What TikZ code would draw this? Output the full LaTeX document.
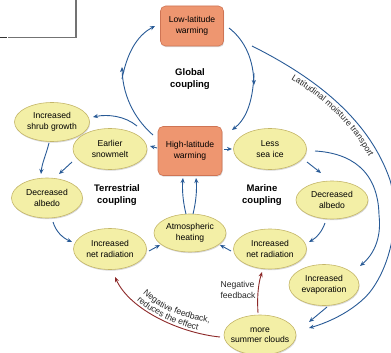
\documentclass[tikz,border=0pt]{standalone}
\usepackage{fontspec}
\setmainfont{Liberation Sans}
\usetikzlibrary{shapes.geometric,arrows.meta,shadows,decorations.text}
\definecolor{flowblue}{RGB}{40,90,150}
\definecolor{fbred}{RGB}{140,40,40}
\definecolor{bubblefill}{RGB}{243,239,166}
\definecolor{bubbleedge}{RGB}{196,182,104}
\definecolor{warmfill}{RGB}{238,150,112}
\definecolor{warmedge}{RGB}{206,116,84}
\begin{document}
\begin{tikzpicture}[x=1pt,y=-1pt,
  softshadow/.style={drop shadow={shadow xshift=0.6pt,shadow yshift=-1.2pt,opacity=0.3}},
  bubble/.style={ellipse, draw=bubbleedge, line width=0.6pt, fill=bubblefill,
    inner xsep=-4pt, inner ysep=0pt, align=center,
    font=\fontsize{8.6}{10.5}\selectfont, softshadow},
  warmbox/.style={rectangle, rounded corners=5pt, draw=warmedge, line width=0.6pt,
    fill=warmfill, inner sep=0pt, align=center,
    font=\fontsize{8.6}{10.5}\selectfont, softshadow},
  zone/.style={font=\bfseries\fontsize{9.5}{11.5}\selectfont, align=center},
  arr/.style={draw=flowblue, line width=0.9pt, -{Stealth[length=5pt,width=4.2pt]}},
  fb/.style={arr, draw=fbred},
  lbl/.style={font=\fontsize{8.6}{10.5}\selectfont, align=left, text=black!85},
]
\useasboundingbox (0,0) rectangle (391,353);

% frame corner in the upper left
\draw[line width=1.3pt, black!55] (76,-2) -- (76,37.5) -- (8,37.5);
\draw[line width=1pt, black!80] (0,38) -- (6.5,38);

% warming boxes
\node[warmbox, minimum width=63pt, minimum height=40pt] (low) at (192,26) {Low-latitude\\warming};
\node[warmbox, minimum width=64pt, minimum height=49pt] (hl) at (190,151) {High-latitude\\warming};

% terrestrial side
\node[bubble, minimum width=75pt, minimum height=39pt] (shrub) at (52,122) {Increased\\shrub growth};
\node[bubble, minimum width=74pt, minimum height=41pt] (snow) at (110,149) {Earlier\\snowmelt};
\node[bubble, minimum width=71pt, minimum height=40pt] (albL) at (47,198) {Decreased\\albedo};
\node[bubble, minimum width=73pt, minimum height=41pt] (netL) at (110,249) {Increased\\net radiation};
\node[bubble, minimum width=72pt, minimum height=38pt] (atm) at (190,233) {Atmospheric\\heating};

% marine side
\node[bubble, minimum width=73pt, minimum height=41pt] (ice) at (270,149) {Less\\sea ice};
\node[bubble, minimum width=72pt, minimum height=38pt] (albR) at (332,200) {Decreased\\albedo};
\node[bubble, minimum width=73pt, minimum height=40pt] (netR) at (270,249) {Increased\\net radiation};
\node[bubble, minimum width=70pt, minimum height=41pt] (evap) at (324,285) {Increased\\evaporation};
\node[bubble, minimum width=72pt, minimum height=40pt] (clouds) at (260,335) {more\\summer clouds};

% zone titles
\node[zone] (tglobal) at (190,79) {Global\\coupling};
\node[zone] (tterr) at (117,195) {Terrestrial\\coupling};
\node[zone] (tmar) at (262,195) {Marine\\coupling};

% global coupling loop
\coordinate (gL) at (122,73);
\coordinate (gR) at (254,79);
\draw[arr] ([shift={(-37,-16)}]hl.center) .. controls (138,122) and (123,100) .. ([yshift=6]gL);
\draw[arr] ([yshift=-6]gL) .. controls (128,48) and (140,34) .. ([xshift=-37]low.center);
\draw[arr] ([shift={(37,2)}]low.center) .. controls (242,38) and (253,55) .. ([yshift=-6]gR);
\draw[arr] ([yshift=6]gR) .. controls (253,104) and (245,120) .. ([shift={(42,-21)}]hl.center);

% terrestrial coupling
\draw[arr] ([shift={(-53,-25)}]hl.center) .. controls (125,116) and (108,114) .. ([shift={(41,-5)}]shrub.center);
\draw[arr] ([shift={(-33,-3)}]hl.center) -- ([shift={(40,-3)}]snow.center);
\draw[arr] ([shift={(-3,21)}]shrub.center) .. controls (46,155) and (42,163) .. ([shift={(-6,-24)}]albL.center);
\draw[arr] ([shift={(-38,13)}]snow.center) -- ([shift={(12,-24)}]albL.center);
\draw[arr] ([shift={(6,24)}]albL.center) .. controls (56,232) and (63,238) .. ([shift={(-38,-7)}]netL.center);
\draw[arr] ([shift={(39,2)}]netL.center) -- ([shift={(-30,12)}]atm.center);
\draw[arr] ([shift={(-4,-19)}]atm.center) .. controls (183,202) and (182,190) .. ([shift={(-7,27)}]hl.center);
\draw[arr] ([shift={(3,-19)}]atm.center) .. controls (196,202) and (197,190) .. ([shift={(6,27)}]hl.center);

% marine coupling
\draw[arr] ([shift={(34,-2)}]hl.center) -- ([shift={(-38,0)}]ice.center);
\draw[arr] ([shift={(37,13)}]ice.center) -- ([shift={(-11,-27)}]albR.center);
\draw[arr] ([shift={(-7,23)}]albR.center) .. controls (322,232) and (316,238) .. ([shift={(39,-7)}]netR.center);
\draw[arr] ([shift={(-39,2)}]netR.center) -- ([shift={(30,12)}]atm.center);
\draw[arr] ([shift={(45,2)}]ice.center) .. controls (350,153) and (378,170) .. (379,215)
  .. controls (382,240) and (372,256) .. ([shift={(36,-19)}]evap.center);
\draw[arr] ([shift={(3,22)}]evap.center) -- ([shift={(49,-13)}]clouds.center);

% latitudinal moisture transport
\draw[arr] ([shift={(60,20)}]low.center) .. controls (320,80) and (370,122) .. (390,180)
  .. controls (400,215) and (393,262) .. (370,292)
  .. controls (355,310) and (330,322) .. ([shift={(49,-7)}]clouds.center);
\path[decorate, decoration={text along path, text align={left indent=50pt},
    text={|\fontsize{8.6}{10}\selectfont\color{black!85}|Latitudinal moisture transport}}]
  (247.5,54.9) .. controls (315.5,88.9) and (360.6,125.3) .. (380.6,183.3);

% negative feedbacks
\draw[fb] ([shift={(-2,-22)}]clouds.center) .. controls (257,298) and (258,285) .. ([shift={(-8,23)}]netR.center);
\node[lbl] (nfb) at (238,290) {Negative\\feedback};
\draw[fb] ([shift={(-40,2)}]clouds.center) .. controls (180,333) and (130,310) .. ([shift={(5,28)}]netL.center);
\path[decorate, decoration={text along path, text align={left indent=26pt},
    text={|\fontsize{8.6}{10}\selectfont\color{black!85}|Negative feedback,}}]
  (127.9,272.8) .. controls (141.9,304.8) and (181.3,320.1) .. (221.3,324.1);
\path[decorate, decoration={text along path, text align={left indent=30pt},
    text={|\fontsize{8.6}{10}\selectfont\color{black!85}|reduces the effect}}]
  (118.7,276.8) .. controls (132.7,308.8) and (180.3,330) .. (220.3,334);
\end{tikzpicture}
\end{document}
